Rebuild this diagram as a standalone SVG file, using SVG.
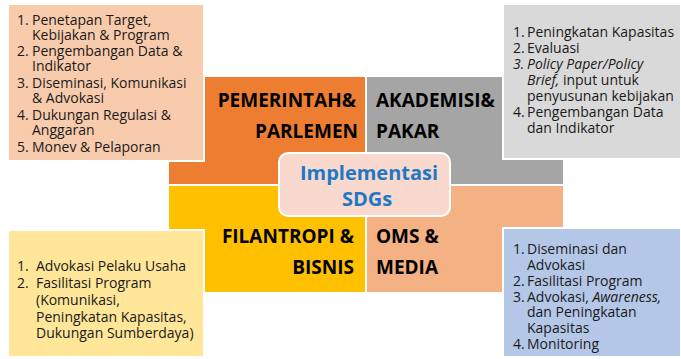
<svg xmlns="http://www.w3.org/2000/svg" width="681" height="359" viewBox="0 0 681 359">
<style>
.box{stroke:#ffffff;stroke-width:2}
.t{font-family:"Open Sans","Noto Sans",sans-serif;font-size:14px;fill:#1a1a1a}
.it{font-style:italic}
.lbl{font-family:"Open Sans","Noto Sans",sans-serif;font-size:19px;font-weight:bold;fill:#000000}
.ctr{font-family:"Open Sans","Noto Sans",sans-serif;font-size:20px;font-weight:bold;fill:#1F78C4;text-anchor:middle}
</style>
<rect width="681" height="359" fill="#ffffff"/>
<g id="connectors"></g>
<g id="pemerintah">
<rect x="169" y="77" width="196" height="107" fill="#ED7D31"/>
</g>
<g id="akademisi">
<rect x="367" y="77" width="196" height="107" fill="#A5A5A5"/>
</g>
<g id="filantropi">
<rect x="169" y="186" width="196" height="106" fill="#FFC000"/>
</g>
<g id="oms">
<rect x="367" y="186" width="196" height="106" fill="#F4B183"/>
</g>
<g id="box-pemerintah">
<rect class="box" x="8" y="4" width="196" height="157" fill="#F8CBAD"/>
<text class="t" x="17" y="25">1.</text><text class="t" x="32" y="25">Penetapan Target,</text>
<text class="t" x="32" y="40">Kebijakan &amp; Program</text>
<text class="t" x="17" y="56">2.</text><text class="t" x="32" y="56">Pengembangan Data &amp;</text>
<text class="t" x="32" y="71">Indikator</text>
<text class="t" x="17" y="88">3.</text><text class="t" x="32" y="88">Diseminasi, Komunikasi</text>
<text class="t" x="32" y="103">&amp; Advokasi</text>
<text class="t" x="17" y="120">4.</text><text class="t" x="32" y="120">Dukungan Regulasi &amp;</text>
<text class="t" x="32" y="135">Anggaran</text>
<text class="t" x="17" y="152">5.</text><text class="t" x="32" y="152">Monev &amp; Pelaporan</text>
</g>
<g id="box-akademisi">
<rect class="box" x="503" y="4" width="178" height="155" fill="#D9D9D9"/>
<text class="t" x="513" y="37">1.</text><text class="t" x="527" y="37">Peningkatan Kapasitas</text>
<text class="t" x="513" y="52.5">2.</text><text class="t" x="527" y="52.5">Evaluasi</text>
<text class="t it" x="513" y="69">3.</text><text class="t it" x="527" y="69">Policy Paper/Policy</text>
<text class="t" x="527" y="85"><tspan class="it">Brief,</tspan> input untuk</text>
<text class="t" x="527" y="100.5">penyusunan kebijakan</text>
<text class="t" x="513" y="117">4.</text><text class="t" x="527" y="117">Pengembangan Data</text>
<text class="t" x="527" y="132.5">dan Indikator</text>
</g>
<g id="box-filantropi">
<rect class="box" x="8" y="230" width="196" height="127" fill="#FFE699"/>
<text class="t" x="17" y="271">1.</text><text class="t" x="36" y="271">Advokasi Pelaku Usaha</text>
<text class="t" x="17" y="288">2.</text><text class="t" x="36" y="288">Fasilitasi Program</text>
<text class="t" x="36" y="305">(Komunikasi,</text>
<text class="t" x="36" y="322">Peningkatan Kapasitas,</text>
<text class="t" x="36" y="338">Dukungan Sumberdaya)</text>
</g>
<g id="box-oms">
<rect class="box" x="503" y="228" width="178" height="129" fill="#B4C7E7"/>
<text class="t" x="513" y="254">1.</text><text class="t" x="527" y="254">Diseminasi dan</text>
<text class="t" x="527" y="269.5">Advokasi</text>
<text class="t" x="513" y="285.5">2.</text><text class="t" x="527" y="285.5">Fasilitasi Program</text>
<text class="t" x="513" y="301.5">3.</text><text class="t" x="527" y="301.5">Advokasi, <tspan class="it">Awareness,</tspan></text>
<text class="t" x="527" y="317">dan Peningkatan</text>
<text class="t" x="527" y="332.5">Kapasitas</text>
<text class="t" x="513" y="349">4.</text><text class="t" x="527" y="349">Monitoring</text>
</g>
<g id="labels">
<text class="lbl" x="356" y="107" text-anchor="end">PEMERINTAH&amp;</text>
<text class="lbl" x="358" y="138" text-anchor="end">PARLEMEN</text>
<text class="lbl" x="376" y="107">AKADEMISI&amp;</text>
<text class="lbl" x="376" y="138">PAKAR</text>
<text class="lbl" x="354" y="243" text-anchor="end">FILANTROPI &amp;</text>
<text class="lbl" x="354" y="274" text-anchor="end">BISNIS</text>
<text class="lbl" x="376" y="243">OMS &amp;</text>
<text class="lbl" x="376" y="274">MEDIA</text>
</g>
<g id="center">
<rect x="279" y="153" width="171" height="63" rx="9" fill="#F9D9CE" stroke="#ffffff" stroke-width="2"/>
<text class="ctr" x="369" y="179.5">Implementasi</text>
<text class="ctr" x="367" y="206">SDGs</text>
</g>
</svg>
